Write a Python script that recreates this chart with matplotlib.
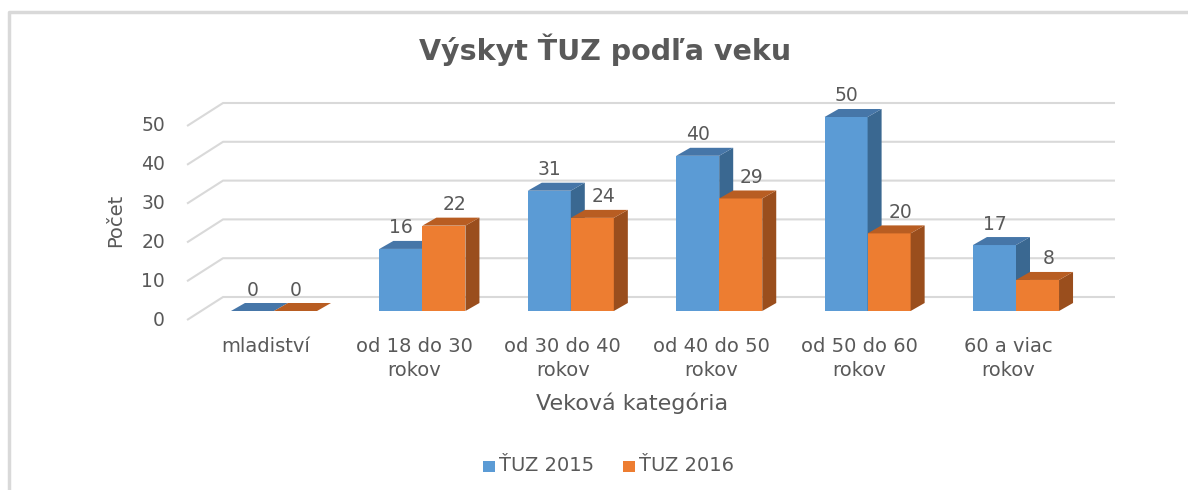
import numpy as np
import matplotlib
matplotlib.use('Agg')
from matplotlib import pyplot as plt
from matplotlib.patches import Polygon, Rectangle

categories = ['mladiství', 'od 18 do 30\nrokov', 'od 30 do 40\nrokov',
              'od 40 do 50\nrokov', 'od 50 do 60\nrokov', '60 a viac\nrokov']
tuz_2015 = [0, 16, 31, 40, 50, 17]
tuz_2016 = [0, 22, 24, 29, 20, 8]
series_names = ['ŤUZ 2015', 'ŤUZ 2016']
y_ticks = [0, 10, 20, 30, 40, 50]

plt.rcParams['font.family'] = ['DejaVu Sans']
text_col = '#595959'
grid_col = '#D9D9D9'

# front, top, side colours per series
colors = [('#5B9BD5', '#4676A8', '#3A6891'),
          ('#ED7D31', '#B85D22', '#9A4E1D')]

W, H = 1188, 490
fig = plt.figure(figsize=(W / 100, H / 100), dpi=100)

# pixel geometry of the pseudo-3d plot
px_unit = 148.4     # px per category
py_unit = 3.88      # px per value unit
x0_px, y0_px = 274, 311   # pixel of category 0 / value 0 (bar front plane)
xlim = (-1, 6)
ylim = (-5, 55)
left = (x0_px - px_unit * (0 - xlim[0])) / W
bottom = (H - (y0_px + py_unit * (0 - ylim[0]))) / H
ax = fig.add_axes([left, bottom, (xlim[1] - xlim[0]) * px_unit / W,
                   (ylim[1] - ylim[0]) * py_unit / H])
ax.set_xlim(*xlim)
ax.set_ylim(*ylim)
ax.axis('off')

def dx(p):
    return p / px_unit

def dy(p):
    return p / py_unit

# depth offsets (pixels, screen up positive)
bar_depth = (14, 8)
front_grid = (-14, -9)
wall = (22, 14)
grid_left = -0.586
grid_right = (1115 - x0_px) / px_unit

# gridlines: diagonal on the floor side + horizontal on the back wall
for t in y_ticks:
    fx, fy = grid_left, t + dy(front_grid[1])
    bx, by = grid_left + dx(wall[0] - front_grid[0]), t + dy(wall[1])
    ax.plot([fx, bx, grid_right], [fy, by, by], color=grid_col, lw=1.5,
            solid_capstyle='butt', zorder=1, clip_on=False)
    ax.text(fx - dx(22), fy, str(t), ha='right', va='center', fontsize=13.5,
            color=text_col)

bw = 0.29
ddx, ddy = dx(bar_depth[0]), dy(bar_depth[1])
for s, vals in enumerate([tuz_2015, tuz_2016]):
    front, top, side = colors[s]
    for i, v in enumerate(vals):
        x1 = i - bw + s * bw
        x2 = x1 + bw
        z = 3 + i * 2 + s
        if v > 0:
            ax.add_patch(Rectangle((x1, 0), bw, v, facecolor=front,
                                   edgecolor='none', zorder=z))
            ax.add_patch(Polygon([(x2, 0), (x2 + ddx, ddy), (x2 + ddx, v + ddy), (x2, v)],
                                 facecolor=side, edgecolor='none', zorder=z))
        ax.add_patch(Polygon([(x1, v), (x2, v), (x2 + ddx, v + ddy), (x1 + ddx, v + ddy)],
                             facecolor=top, edgecolor='none', zorder=z))
        lx = (x1 + x2) / 2
        if s == 1 and v > 0:
            lx += dx(11)
        ax.text(lx, v + dy(21), str(v), ha='center', va='center', fontsize=13.5,
                color=text_col, zorder=20)

for i, c in enumerate(categories):
    ax.text(i - dx(8), dy(-26), c, ha='center', va='top', fontsize=14,
            color=text_col, linespacing=1.3)

fig.text(632 / W, 1 - 403 / H, 'Veková kategória', ha='center', va='center',
         fontsize=16, color=text_col)
fig.text(116 / W, 1 - 220 / H, 'Počet', ha='center', va='center', rotation=90,
         fontsize=14, color=text_col)
fig.text(605 / W, 1 - 50 / H, 'Výskyt ŤUZ podľa veku', ha='center', va='center',
         fontsize=20.5, fontweight='bold', color='#595959')

# legend
for s, name in enumerate(series_names):
    lx = (483 + s * 140) / W
    fig.patches.append(Rectangle((lx, 1 - 472 / H), 12 / W, 11 / H,
                                 transform=fig.transFigure, facecolor=colors[s][0],
                                 edgecolor='none'))
    fig.text(lx + 16 / W, 1 - 465 / H, name, ha='left', va='center',
             fontsize=14, color=text_col)

# chart frame
fig.lines.append(plt.Line2D([9 / W, 9 / W, 1], [0, 1 - 12 / H, 1 - 12 / H],
                            transform=fig.transFigure, color=grid_col, lw=2.5))

fig.savefig('out.png', dpi=100)
